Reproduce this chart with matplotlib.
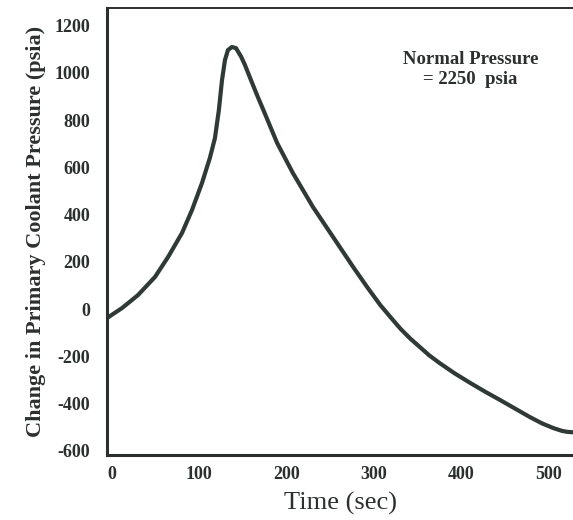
import matplotlib
matplotlib.use("Agg")
import matplotlib.pyplot as plt

# Data (time in s, pressure change in psia)
time_s = [-5.7, 11.4, 29.7, 49.2, 64.1, 80.1, 91.5, 103, 112, 117.8, 122.3,
          125.9, 129.3, 132.7, 137.3, 141.9, 147.6, 152, 159, 166, 173, 189,
          207, 230, 253, 276, 292, 307, 320, 330, 341, 352, 363, 375, 392, 410,
          427, 444, 461, 478, 492, 505, 515, 521, 528]
pressure = [-38, 4, 59, 136, 220, 322, 419, 534, 640, 724, 843,
            970, 1055, 1097, 1110, 1105, 1070, 1035, 970, 906, 845, 703,
            576, 432, 305, 178, 93, 17, -40, -83, -124, -160, -196, -229, -272, -313,
            -350, -385, -421, -457, -484, -504, -516, -520, -522]

x_ticks = [0, 100, 200, 300, 400, 500]
y_ticks = [-600, -400, -200, 0, 200, 400, 600, 800, 1000, 1200]

ink = "#2b2f2d"
serif = ["Liberation Serif", "DejaVu Serif"]

fig = plt.figure(figsize=(5.73, 5.20), dpi=100)
ax = fig.add_axes([107/573, 65/520, 466/573, 447/520])

ax.plot(time_s, pressure, color="#2f3a36", lw=3.0, solid_joinstyle="round",
        solid_capstyle="round")

ax.set_xlim(-5.7, 527.5)
ax.set_ylim(-618, 1275)
ax.set_xticks(x_ticks)
ax.set_yticks(y_ticks)
ax.set_xticklabels([str(v) for v in x_ticks], fontfamily=serif,
                   fontweight="bold", fontsize=13, color=ink)
ax.set_yticklabels([str(v) for v in y_ticks], fontfamily=serif,
                   fontweight="bold", fontsize=13, color=ink)
ax.tick_params(axis="both", length=0)
ax.tick_params(axis="y", pad=12)
ax.tick_params(axis="x", pad=8)

for side in ["left", "bottom"]:
    ax.spines[side].set_linewidth(2.2)
    ax.spines[side].set_color(ink)
ax.spines["top"].set_linewidth(1.4)
ax.spines["top"].set_color(ink)
ax.spines["right"].set_visible(False)

ax.set_xlabel("Time (sec)", fontfamily=serif, fontsize=19, color=ink, labelpad=6)
ax.set_ylabel("Change in Primary Coolant Pressure (psia)", fontfamily=serif,
              fontweight="bold", fontsize=16, color=ink, labelpad=6)

ax.text(0.78, 0.862, "Normal Pressure\n= 2250  psia", transform=ax.transAxes,
        ha="center", va="center", multialignment="center", fontfamily=serif,
        fontweight="bold", fontsize=13.5, color=ink, linespacing=1.2)

fig.savefig("out.png", dpi=100)
